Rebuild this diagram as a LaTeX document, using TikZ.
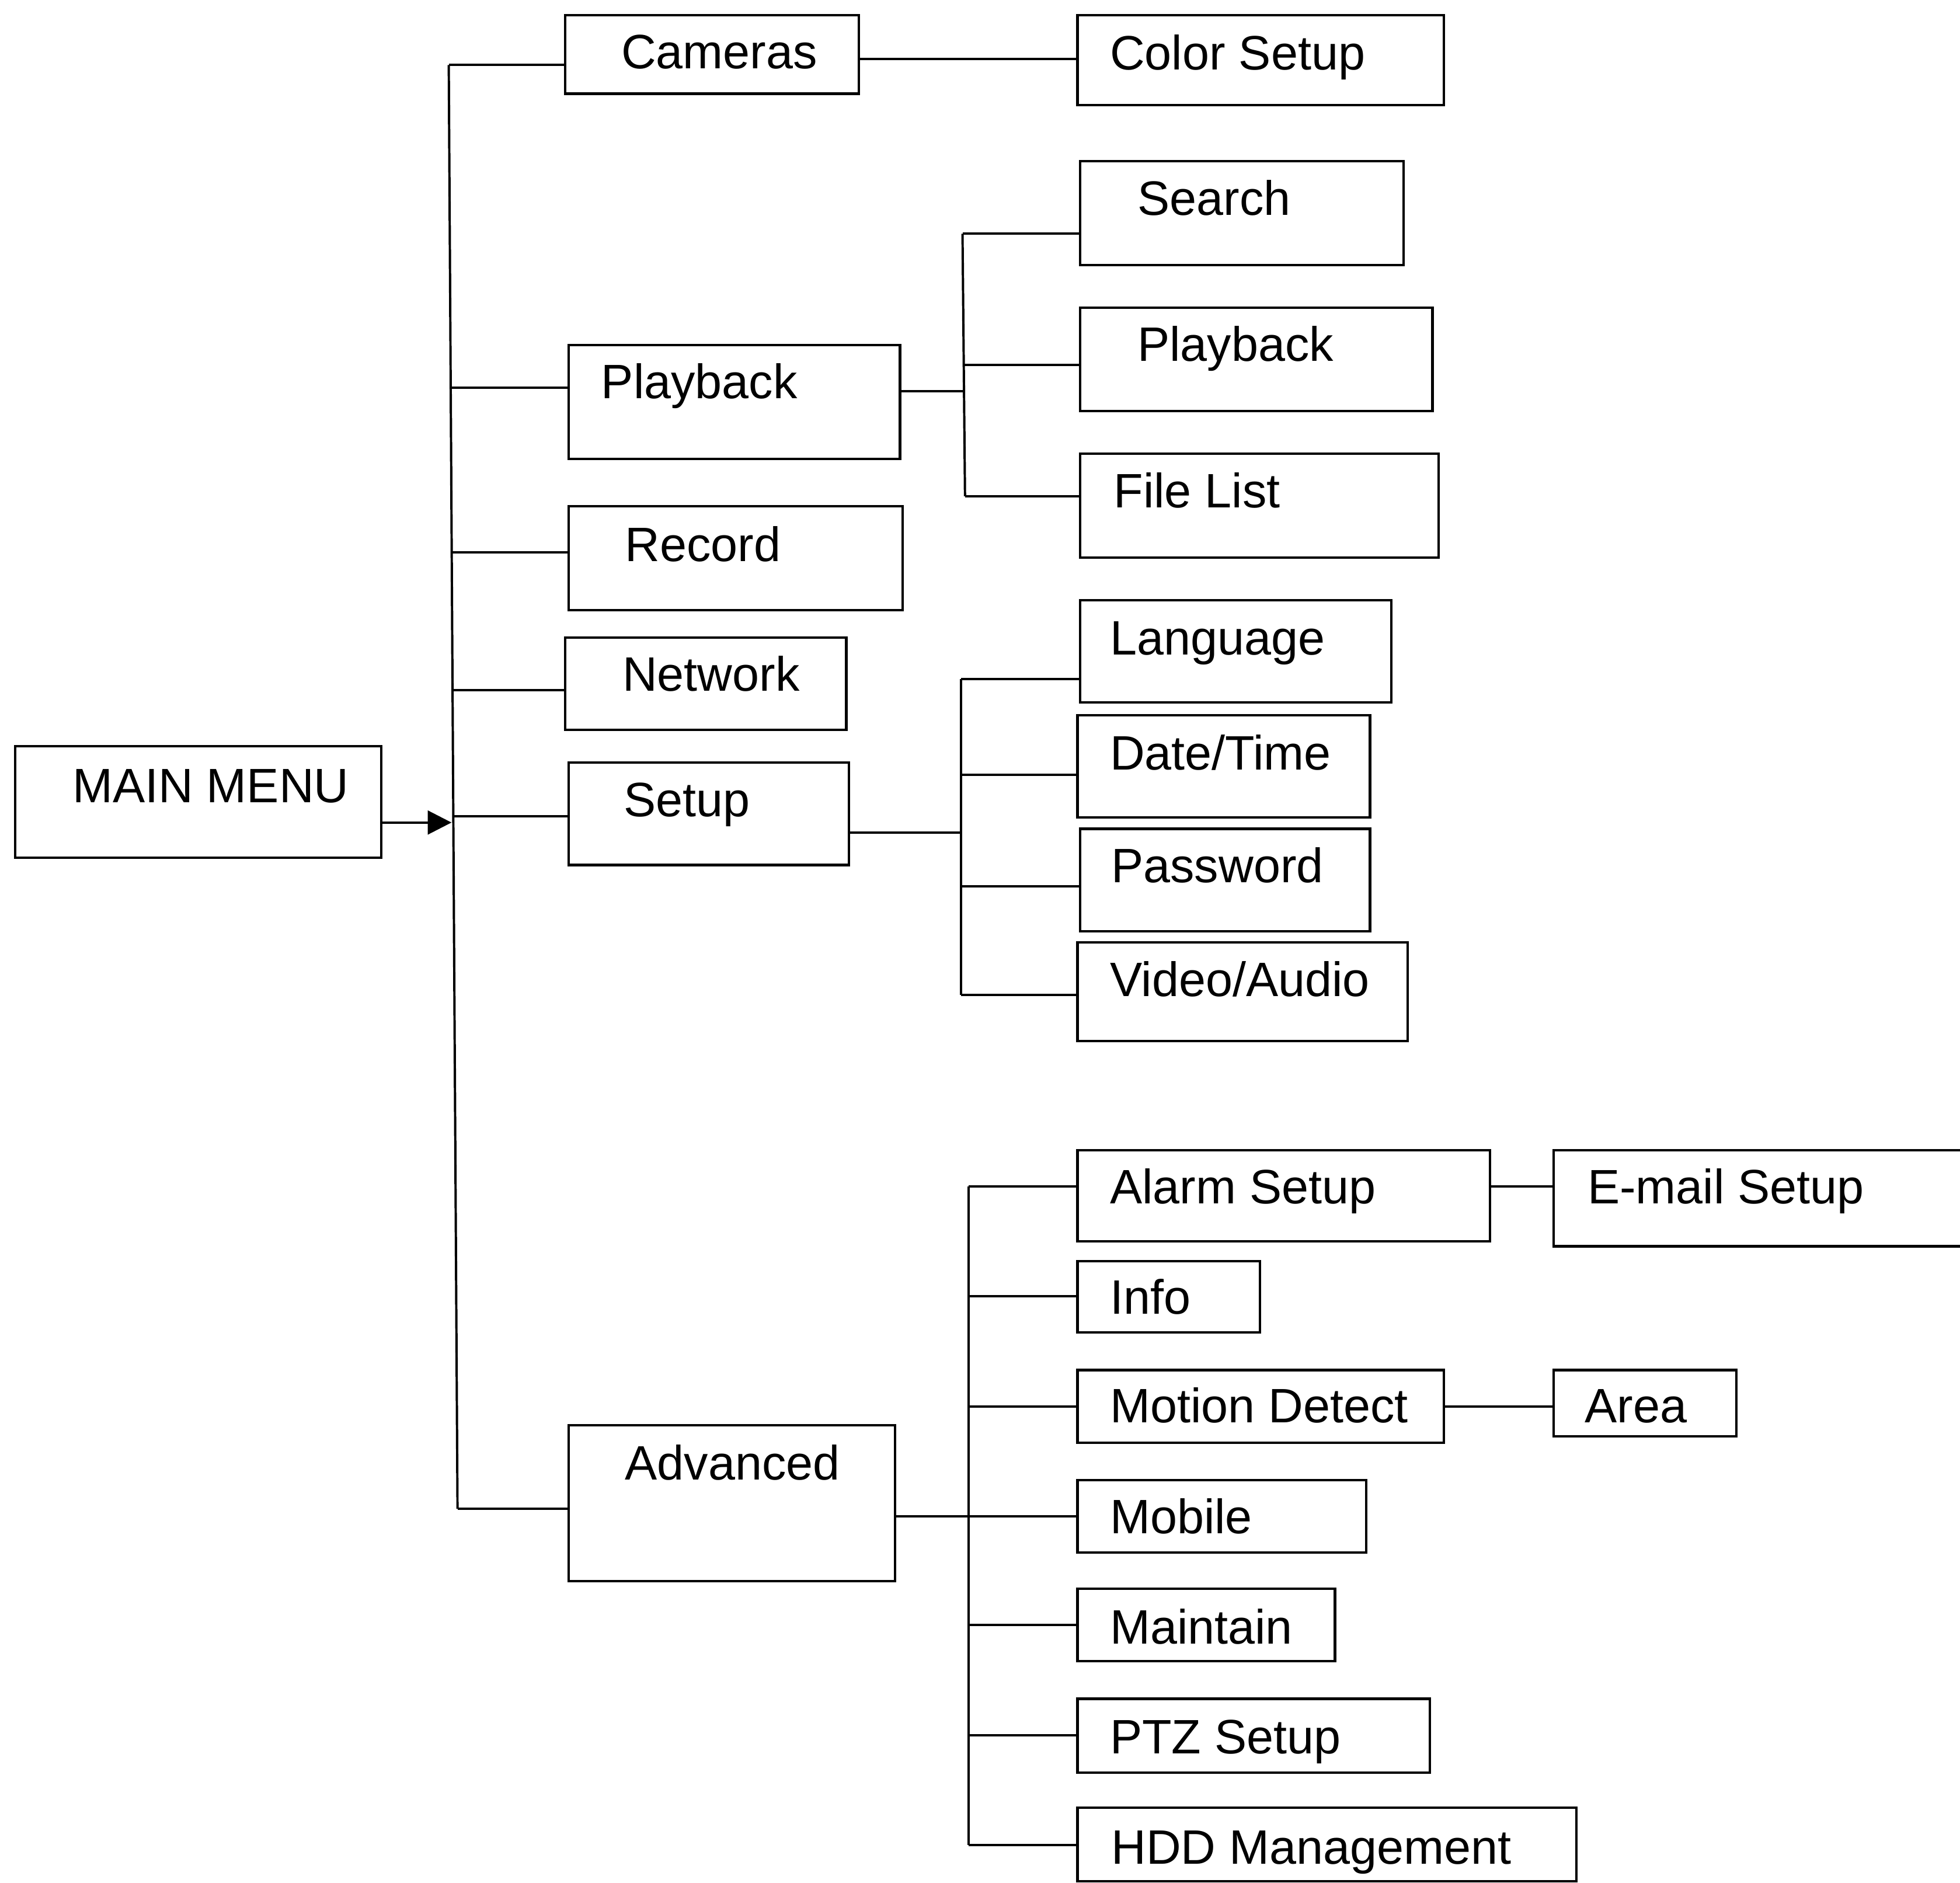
\documentclass[tikz,border=0pt]{standalone}
\usepackage{fontspec}
\setmainfont{Liberation Sans}
\usetikzlibrary{arrows.meta}
\tikzset{
  box/.style={draw=black, line width=1.1pt, inner sep=0pt, outer sep=0pt, rectangle},
  lbl/.style={anchor=base west, inner sep=0pt, outer sep=0pt, font=\fontsize{22}{26}\selectfont},
  conn/.style={draw=black, line width=1.05pt},
  arr/.style={conn, -{Triangle[length=0.38cm, width=0.38cm]}}
}
\newcommand\bxnode[8]{%
  \node[box, minimum width={(#4-#2)*0.02cm}, minimum height={(#5-#3)*0.02cm}, anchor=north west] (#1) at (#2,#3) {};
  \node[lbl] (#1-t) at (#6,#7) {#8};
}
\begin{document}
\begin{tikzpicture}[x=0.02cm, y=-0.02cm]
\clip (0,0) rectangle (1568,1506);
\fill[white] (0,0) rectangle (1568,1506);

% boxes
\bxnode{mm}{12}{597}{305}{686}{58}{642}{MAIN MENU}
\bxnode{cam}{452}{12}{687}{75}{497}{55}{Cameras}
\bxnode{col}{862}{12}{1155}{84}{888}{56}{Color Setup}
\bxnode{pb}{455}{276}{720}{367}{481}{319}{Playback}
\bxnode{sea}{864}{129}{1123}{212}{910}{172}{Search}
\bxnode{pbb}{864}{246}{1146}{329}{910}{289}{Playback}
\bxnode{fl}{864}{363}{1151}{446}{891}{406}{File List}
\bxnode{rec}{455}{405}{722}{488}{500}{449}{Record}
\bxnode{net}{452}{510}{677}{584}{498}{553}{Network}
\bxnode{set}{455}{610}{679}{692}{499}{653}{Setup}
\bxnode{lang}{864}{480}{1113}{562}{888}{524}{Language}
\bxnode{dt}{862}{572}{1096}{654}{888}{616}{Date/Time}
\bxnode{pw}{864}{663}{1096}{745}{889}{706}{Password}
\bxnode{va}{862}{754}{1126}{833}{888}{797}{Video/Audio}
\bxnode{adv}{455}{1140}{716}{1265}{500}{1184}{Advanced}
\bxnode{alm}{862}{920}{1192}{993}{888}{963}{Alarm Setup}
\bxnode{eml}{1243}{920}{1600}{997}{1270}{963}{E-mail Setup}
\bxnode{info}{862}{1009}{1008}{1066}{888}{1051}{Info}
\bxnode{mot}{862}{1096}{1155}{1154}{888}{1138}{Motion Detect}
\bxnode{area}{1243}{1096}{1389}{1149}{1268}{1138}{Area}
\bxnode{mob}{862}{1184}{1093}{1242}{888}{1227}{Mobile}
\bxnode{mnt}{862}{1271}{1068}{1329}{888}{1315}{Maintain}
\bxnode{ptz}{862}{1359}{1144}{1418}{888}{1403}{PTZ Setup}
\bxnode{hdd}{862}{1446}{1261}{1505}{889}{1491}{HDD Management}

% main spine
\coordinate (sT) at (359,52);
\coordinate (sB) at (366,1207);
\coordinate (s2) at (360.6,310);
\coordinate (s3) at (361.4,442);
\coordinate (s4) at (362.0,552);
\coordinate (s5) at (362.6,653);
\coordinate (sa) at (361.2,658);
\draw[conn] (sT) -- (sB);
\draw[arr] (sa -| mm.east) -- (sa);
\draw[conn] (sT) -- (sT -| cam.west);
\draw[conn] (s2) -- (s2 -| pb.west);
\draw[conn] (s3) -- (s3 -| rec.west);
\draw[conn] (s4) -- (s4 -| net.west);
\draw[conn] (s5) -- (s5 -| set.west);
\draw[conn] (sB) -- (sB -| adv.west);

% cameras -> color setup
\coordinate (c1) at (770,47);
\draw[conn] (c1 -| cam.east) -- (c1 -| col.west);

% playback group
\coordinate (p0) at (770,313);
\coordinate (p1) at (770,187);
\coordinate (p2) at (771,292);
\coordinate (p3) at (772,397);
\draw[conn] (p0 -| pb.east) -- (p0);
\draw[conn] (p1) -- (p3);
\draw[conn] (p1) -- (p1 -| sea.west);
\draw[conn] (p2) -- (p2 -| pbb.west);
\draw[conn] (p3) -- (p3 -| fl.west);

% setup group
\coordinate (u0) at (769,666);
\coordinate (u1) at (769,543);
\coordinate (u2) at (769,620);
\coordinate (u3) at (769,709);
\coordinate (u4) at (769,796);
\draw[conn] (u0 -| set.east) -- (u0);
\draw[conn] (u1) -- (u4);
\draw[conn] (u1) -- (u1 -| lang.west);
\draw[conn] (u2) -- (u2 -| dt.west);
\draw[conn] (u3) -- (u3 -| pw.west);
\draw[conn] (u4) -- (u4 -| va.west);

% advanced group
\coordinate (a0) at (775,1213);
\coordinate (a1) at (775,949);
\coordinate (a2) at (775,1037);
\coordinate (a3) at (775,1125);
\coordinate (a5) at (775,1300);
\coordinate (a6) at (775,1388);
\coordinate (a7) at (775,1476);
\draw[conn] (a0 -| adv.east) -- (a0 -| mob.west);
\draw[conn] (a1) -- (a7);
\draw[conn] (a1) -- (a1 -| alm.west);
\draw[conn] (a2) -- (a2 -| info.west);
\draw[conn] (a3) -- (a3 -| mot.west);
\draw[conn] (a5) -- (a5 -| mnt.west);
\draw[conn] (a6) -- (a6 -| ptz.west);
\draw[conn] (a7) -- (a7 -| hdd.west);

% sub-sub links
\coordinate (e1) at (1200,949);
\draw[conn] (e1 -| alm.east) -- (e1 -| eml.west);
\coordinate (e2) at (1200,1125);
\draw[conn] (e2 -| mot.east) -- (e2 -| area.west);
\end{tikzpicture}
\end{document}
